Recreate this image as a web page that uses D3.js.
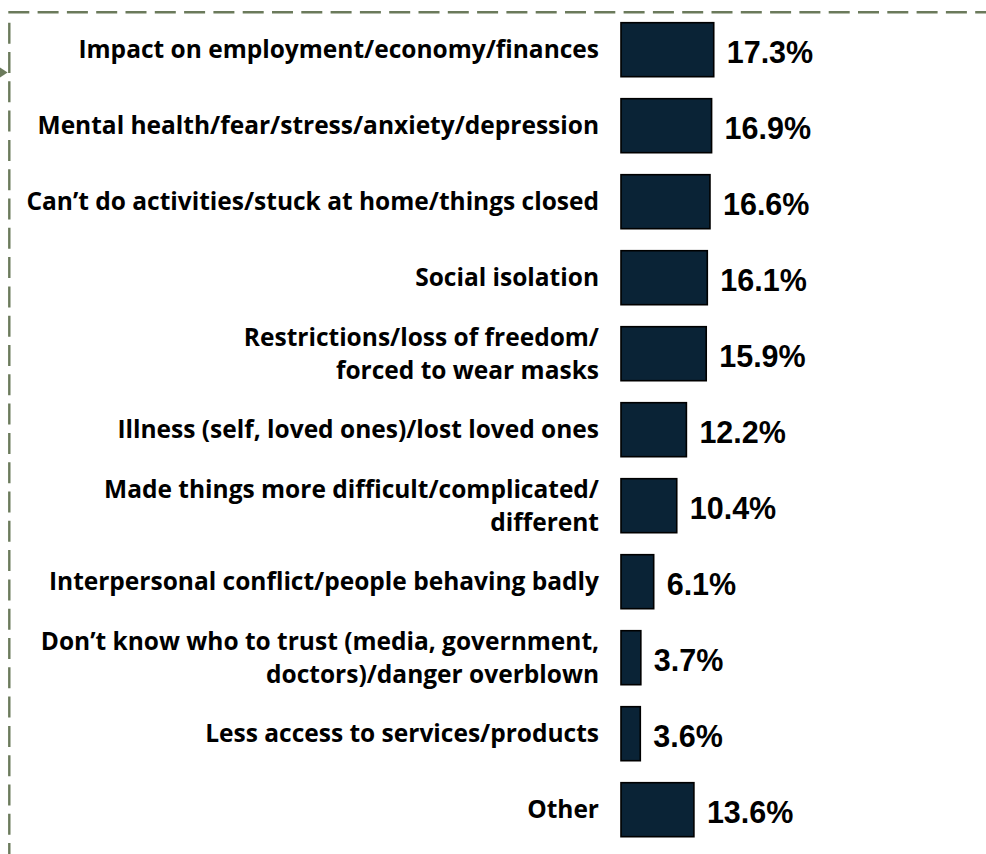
<!DOCTYPE html>
<html>
<head>
<meta charset="utf-8">
<script src="https://cdn.jsdelivr.net/npm/d3@7"></script>
<style>
  html, body { margin: 0; padding: 0; background: #ffffff; }
  svg { display: block; }
</style>
</head>
<body>
<svg id="chart" width="986" height="854"></svg>
<script>
// Reasons given, top to bottom; "\n" marks a line break in the label
const categories = [
  "Impact on employment/economy/finances",
  "Mental health/fear/stress/anxiety/depression",
  "Can’t do activities/stuck at home/things closed",
  "Social isolation",
  "Restrictions/loss of freedom/\nforced to wear masks",
  "Illness (self, loved ones)/lost loved ones",
  "Made things more difficult/complicated/\ndifferent",
  "Interpersonal conflict/people behaving badly",
  "Don’t know who to trust (media, government,\ndoctors)/danger overblown",
  "Less access to services/products",
  "Other"
];
// Share of respondents (%)
const values = [17.3, 16.9, 16.6, 16.1, 15.9, 12.2, 10.4, 6.1, 3.7, 3.6, 13.6];

const W = 986, H = 854;
const svg = d3.select("#chart");

const frameColor = "#6b7a5b";
const barFill = "#0a2336";

// Dashed frame: top edge and left edge, with a small pointer on the left
svg.append("line")
  .attr("x1", 8.3).attr("y1", 12.3).attr("x2", W).attr("y2", 12.3)
  .attr("stroke", frameColor).attr("stroke-width", 2.4)
  .attr("stroke-dasharray", "21 8.3");
svg.append("line")
  .attr("x1", 9.3).attr("y1", 22.7).attr("x2", 9.3).attr("y2", H)
  .attr("stroke", frameColor).attr("stroke-width", 2.4)
  .attr("stroke-dasharray", "21 8.3");
svg.append("path")
  .attr("d", "M0,67.5 L7.6,72.5 L0,77.5 Z")
  .attr("fill", frameColor);

// Scales
const x = d3.scaleLinear().domain([0, 20]).range([621, 621 + 107.2]);
const y = d3.scaleBand()
  .domain(d3.range(categories.length))
  .range([22.7, 836.7])
  .paddingInner(22 / 76)
  .paddingOuter(0);

const rows = svg.append("g").selectAll("g.row")
  .data(values.map((v, i) => ({ v, label: categories[i], i })))
  .join("g").attr("class", "row");

// Bars
rows.append("rect")
  .attr("x", x(0))
  .attr("y", d => y(d.i))
  .attr("width", d => x(d.v) - x(0))
  .attr("height", y.bandwidth())
  .attr("fill", barFill)
  .attr("stroke", "#000000")
  .attr("stroke-width", 1.6);

// Value labels
rows.append("text")
  .attr("x", d => x(d.v) + 13)
  .attr("y", d => y(d.i) + y.bandwidth() / 2 + 13)
  .attr("font-family", "'Liberation Sans', Arial, sans-serif")
  .attr("font-weight", "bold")
  .attr("font-size", "30.5px")
  .attr("fill", "#000000")
  .text(d => d.v.toFixed(1) + "%");

// Category labels, right aligned against the bars
const lineGap = 33;
rows.append("text")
  .attr("text-anchor", "end")
  .attr("font-family", "'Open Sans', Lato, sans-serif")
  .attr("font-weight", "bold")
  .attr("font-size", "24.5px")
  .attr("fill", "#000000")
  .each(function (d) {
    const lines = d.label.split("\n");
    const cy = y(d.i) + y.bandwidth() / 2 + 8.5;
    const first = cy - (lines.length - 1) * lineGap / 2;
    d3.select(this).selectAll("tspan")
      .data(lines)
      .join("tspan")
      .attr("x", 599)
      .attr("y", (t, k) => first + k * lineGap)
      .text(t => t);
  });
</script>
</body>
</html>
